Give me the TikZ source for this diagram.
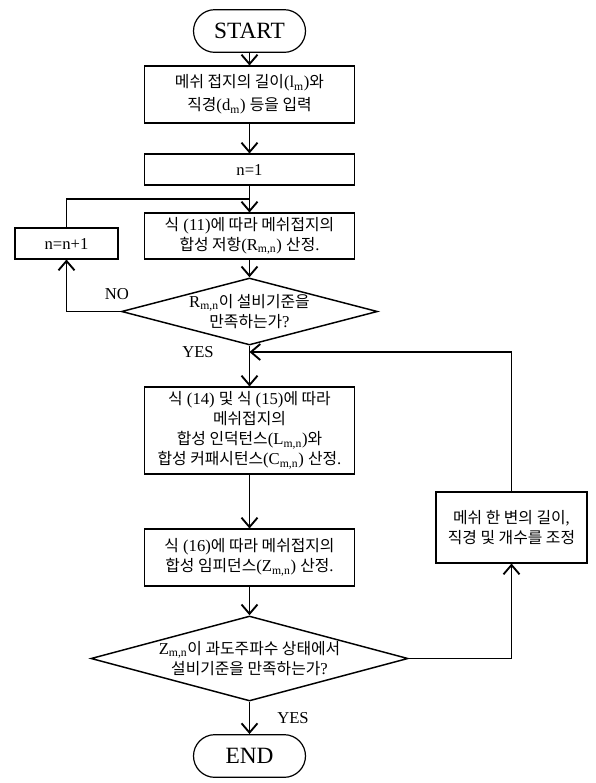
\documentclass[tikz,border=0pt]{standalone}
\usepackage{fontspec}
\setmainfont{Liberation Serif}
\newfontfamily\krfont[Scale=0.95]{Noto Sans CJK KR}
\newcommand{\kor}[1]{{\krfont #1}}
\usetikzlibrary{arrows.meta, shapes.geometric}

\begin{document}
\begin{tikzpicture}[
    x=0.75pt, y=-0.75pt,
    every node/.style={font=\fontsize{12.5}{15}\selectfont},
    terminal/.style={draw, line width=0.9pt, rectangle, rounded corners=16pt, minimum width=84pt, minimum height=32pt, font=\fontsize{17.5}{20}\selectfont},
    process/.style={draw, line width=0.8pt, rectangle, align=center, inner sep=0pt, minimum width=158pt},
    decision/.style={draw, line width=1.1pt, diamond, aspect=3.8, align=center, inner sep=-3pt},
    flow/.style={line width=1.4pt, -{Straight Barb[length=7pt, width=12pt]}}
]
\useasboundingbox (0,0) rectangle (596,783);

% Nodes
\node[terminal] (start) at (249.5,31) {START};
\node[process, minimum height=42.75pt] (input) at (249.5,94.5) {\kor{메쉬 접지의 길이}(l\textsubscript{m})\kor{와}\\[2pt]\kor{직경}(d\textsubscript{m}) \kor{등을 입력}};
\node[process, minimum height=23.25pt] (init) at (249.5,169.5) {n=1};
\node[process, minimum height=34.5pt] (calcR) at (249.5,236) {\kor{식} (11)\kor{에 따라 메쉬접지의}\\\kor{합성 저항}(R\textsubscript{m,n}) \kor{산정}.};
\node[process, minimum width=77.25pt, minimum height=23.25pt] (incr) at (66.5,243.5) {n=n+1};
\node[decision, minimum width=192pt, minimum height=50.25pt] (checkR) at (249.5,311.5) {R\textsubscript{m,n}\kor{이 설비기준을}\\\kor{만족하는가}?};
\node[process, minimum height=65.25pt] (calcLC) at (249.5,430.5) {\kor{식} (14) \kor{및 식} (15)\kor{에 따라}\\\kor{메쉬접지의}\\\kor{합성 인덕턴스}(L\textsubscript{m,n})\kor{와}\\\kor{합성 커패시턴스}(C\textsubscript{m,n}) \kor{산정}.};
\node[process, minimum height=42.75pt] (calcZ) at (249.5,557.5) {\kor{식} (16)\kor{에 따라 메쉬접지의}\\\kor{합성 임피던스}(Z\textsubscript{m,n}) \kor{산정}.};
\node[process, minimum width=113.25pt, minimum height=53.25pt] (adjust) at (511.5,527.5) {\kor{메쉬 한 변의 길이},\\\kor{직경 및 개수를 조정}};
\node[decision, aspect=3.73, minimum width=237.75pt, minimum height=63.75pt] (checkZ) at (249.5,658.5) {Z\textsubscript{m,n}\kor{이 과도주파수 상태에서}\\\kor{설비기준을 만족하는가}?};
\node[terminal] (end) at (249.5,756) {END};

% Labels
\node (no) at (117,294) {NO};
\node (yes1) at (198,352) {YES};
\node (yes2) at (293,718) {YES};

% Joins
\coordinate (loopin) at (249.5,199);
\coordinate (loopback) at (249.5,352);

% Arrows
\draw[flow] (start) -- (input);
\draw[flow] (input) -- (init);
\draw[flow] (init) -- (calcR);
\draw[line width=1.4pt] (incr.north) |- (loopin);
\draw[flow] (calcR) -- (checkR);
\draw[flow] (checkR.west) -| (incr.south);
\draw[flow] (checkR) -- (calcLC);
\draw[flow] (calcLC) -- (calcZ);
\draw[flow] (calcZ) -- (checkZ);
\draw[flow] (checkZ) -- (end);
\draw[flow] (checkZ.east) -| (adjust.south);
\draw[flow] (adjust.north) |- (loopback);

\end{tikzpicture}
\end{document}
